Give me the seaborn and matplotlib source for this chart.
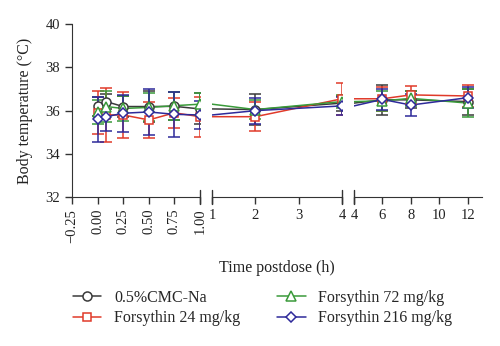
import matplotlib
matplotlib.use("Agg")
import matplotlib.pyplot as plt
import seaborn as sns
import pandas as pd
from matplotlib.lines import Line2D

sns.set_style("ticks")
plt.rcParams['font.family'] = ['Liberation Serif', 'DejaVu Serif']
plt.rcParams['font.size'] = 10

times = [0, 0.083, 0.25, 0.5, 0.75, 1, 2, 4, 6, 8, 12]
cmc_mean = [36.20, 36.42, 36.19, 36.19, 36.20, 36.08, 36.05, 36.35, 36.50, 36.50, 36.42]
cmc_sd = [0.45, 0.35, 0.50, 0.70, 0.65, 0.72, 0.70, 0.35, 0.70, 0.40, 0.60]
f24_mean = [35.90, 35.80, 35.80, 35.57, 35.90, 35.72, 35.72, 36.55, 36.55, 36.73, 36.68]
f24_sd = [1.00, 1.25, 1.05, 0.85, 0.70, 0.92, 0.66, 0.75, 0.55, 0.40, 0.50]
f72_mean = [35.95, 36.19, 36.10, 36.15, 36.23, 36.30, 36.05, 36.42, 36.45, 36.57, 36.35]
f72_sd = [0.55, 0.70, 0.60, 0.65, 0.65, 0.50, 0.45, 0.30, 0.45, 0.35, 0.65]
f216_mean = [35.60, 35.72, 35.88, 35.94, 35.83, 35.80, 36.00, 36.22, 36.52, 36.26, 36.60]
f216_sd = [1.05, 0.65, 0.85, 1.05, 1.05, 0.65, 0.60, 0.40, 0.50, 0.50, 0.50]

labels = ["0.5%CMC-Na", "Forsythin 24 mg/kg", "Forsythin 72 mg/kg", "Forsythin 216 mg/kg"]
colors = ["#3a3a3a", "#e03a2a", "#3a9a3a", "#2e2a9a"]
markers = ["o", "s", "^", "D"]
msizes = [6.5, 6, 6.5, 5.5]
means = [cmc_mean, f24_mean, f72_mean, f216_mean]
sds = [cmc_sd, f24_sd, f72_sd, f216_sd]

panel1_ticks = [-0.25, 0.0, 0.25, 0.5, 0.75, 1.0]
panel2_ticks = [1, 2, 3, 4]
panel3_ticks = [4, 6, 8, 10, 12]

fig = plt.figure(figsize=(5.0, 3.46), dpi=100)
bottom, height = 0.4306, 0.4992
ax1 = fig.add_axes([0.144, bottom, 0.256, height])
ax2 = fig.add_axes([0.424, bottom, 0.260, height])
ax3 = fig.add_axes([0.708, bottom, 0.256, height])

panels = [
    (ax1, (-0.25, 1.0), lambda t: t <= 1.0),
    (ax2, (1, 4), lambda t: 1 < t <= 4),
    (ax3, (4, 13), lambda t: t > 4),
]

axc = "#333333"
for ax, xl, sel in panels:
    for lab, col, mk, ms, m, s in zip(labels, colors, markers, msizes, means, sds):
        df = pd.DataFrame({"t": times, "v": m})
        sns.lineplot(data=df, x="t", y="v", ax=ax, color=col, lw=1.1,
                     legend=False, zorder=2)
        idx = [i for i, t in enumerate(times) if sel(t)]
        ax.errorbar([times[i] for i in idx], [m[i] for i in idx],
                    yerr=[s[i] for i in idx], fmt="none", ecolor=col,
                    elinewidth=1.1, capsize=4, capthick=1.1, zorder=3)
        ax.plot([times[i] for i in idx], [m[i] for i in idx], ls="none",
                marker=mk, ms=ms, mfc="white", mec=col, mew=1.1, zorder=4)
    ax.set_xlim(*xl)
    ax.set_ylim(32, 40)
    ax.set_xlabel("")
    ax.set_ylabel("")
    for sp in ["top", "right"]:
        ax.spines[sp].set_visible(False)
    ax.spines["bottom"].set_color(axc)
    ax.spines["left"].set_color(axc)
    ax.tick_params(colors=axc, labelcolor="#222222", labelsize=10.5,
                   length=5, width=1, direction="out")
    ax.patch.set_alpha(0)

ax1.set_xticks(panel1_ticks)
ax1.set_xticklabels([f"{t:.2f}".replace("-", "\u2212") for t in panel1_ticks], rotation=90)
ax1.set_yticks([32, 34, 36, 38, 40])
ax1.set_ylabel("Body temperature (\u00b0C)", fontsize=11.5, color="#222222",
               labelpad=9)

for ax, ticks in [(ax2, panel2_ticks), (ax3, panel3_ticks)]:
    ax.set_xticks(ticks)
    ax.set_xticklabels([str(t) for t in ticks])
    ax.spines["left"].set_visible(False)
    ax.tick_params(axis="y", left=False, labelleft=False)

# break marks
d = 0.04
for ax, ends in [(ax1, [1]), (ax2, [0, 1]), (ax3, [0])]:
    for e in ends:
        ax.plot([e, e], [-d, d], transform=ax.transAxes, color=axc, lw=1,
                clip_on=False)

fig.text(0.553, 0.225, "Time postdose (h)", ha="center", va="center",
         fontsize=11.5, color="#222222")

handles = [Line2D([0], [0], color=c, marker=mk, ms=ms, mfc="white", mec=c,
                  mew=1.1, lw=1.1)
           for c, mk, ms in zip(colors, markers, msizes)]
fig.legend(handles, labels, ncol=2, loc="center", bbox_to_anchor=(0.525, 0.11),
           frameon=False, fontsize=11.5, handlelength=1.8, columnspacing=2.3,
           labelspacing=0.3, handletextpad=0.8)

fig.savefig("out.png", dpi=100)
